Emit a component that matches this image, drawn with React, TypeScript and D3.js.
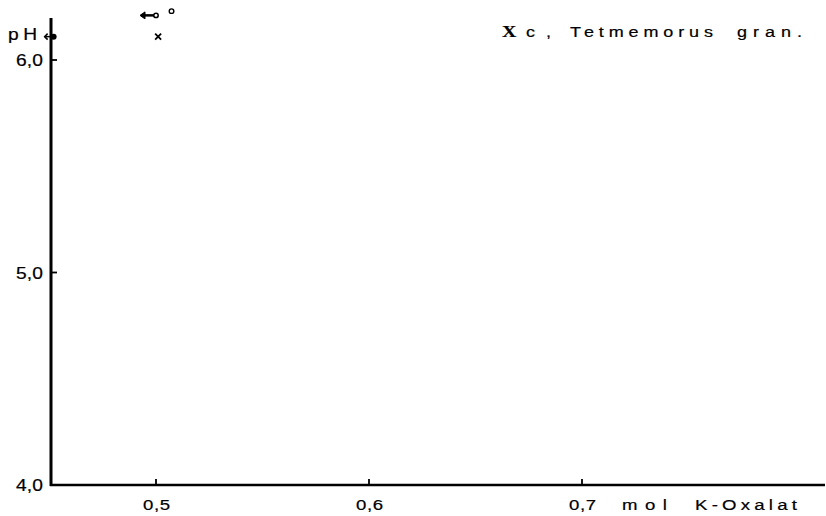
import { useMemo } from 'react';
import * as d3 from 'd3';

// Axis setup
const X_TICKS = [0.5, 0.6, 0.7];
const X_TICK_LABELS = ['0,5', '0,6', '0,7'];
const Y_TICKS = [4.0, 5.0, 6.0];
const Y_TICK_LABELS = ['4,0', '5,0', '6,0'];

// Measured points: x = mol K-Oxalat, y = pH
const FILLED_X = [0.451];
const FILLED_Y = [6.11];
const CROSS_X = [0.501];
const CROSS_Y = [6.11];
const OPEN_X = [0.5];
const OPEN_Y = [6.21];
const RING_X = [0.504];
const RING_Y = [6.23];

const W = 826;
const H = 516;
const FONT = '"Liberation Sans", Arial, sans-serif';
const STRETCH = 1.2;

// wide lettering: glyphs stretched sideways, then spread to the measured width
function Label(props: {
  x: number;
  y: number;
  w: number;
  text: string;
  size?: number;
  family?: string;
  weight?: string;
}) {
  return (
    <text
      transform={`translate(${props.x},${props.y}) scale(${STRETCH},1)`}
      textLength={props.w / STRETCH}
      lengthAdjust="spacing"
      fontFamily={props.family || FONT}
      fontWeight={props.weight}
      fontSize={props.size || 15}
      fill="#000"
      stroke="#000"
      strokeWidth={0.2}
    >
      {props.text}
    </text>
  );
}

export default function App() {
  const x = useMemo(() => d3.scaleLinear().domain([0.5, 0.7]).range([156, 582]), []);
  const y = useMemo(() => d3.scaleLinear().domain([4.0, 6.0]).range([485, 60]), []);

  const x0 = 51;
  const y0 = y(4.0);
  const yTop = 18;
  const xEnd = 825;

  return (
    <svg
      width={W}
      height={H}
      style={{ position: 'absolute', left: 0, top: 0, background: '#fff' }}
    >
      <rect width={W} height={H} fill="#fff" />

      {/* Axes */}
      <line x1={x0} y1={yTop} x2={x0} y2={y0 + 1} stroke="#000" strokeWidth={3} />
      <line x1={x0 - 1} y1={y0} x2={xEnd} y2={y0} stroke="#000" strokeWidth={2.5} />

      {/* Y ticks */}
      {Y_TICKS.map((t, i) => (
        <g key={'y' + t}>
          {i > 0 && (
            <line x1={x0} x2={x0 + 6} y1={y(t)} y2={y(t)} stroke="#000" strokeWidth={1.8} />
          )}
          <Label x={16} y={y(t) + 6} w={27} text={Y_TICK_LABELS[i]} size={16} />
        </g>
      ))}

      {/* X ticks */}
      {X_TICKS.map((t, i) => (
        <g key={'x' + t}>
          <line x1={x(t)} x2={x(t)} y1={y0} y2={y0 - 6} stroke="#000" strokeWidth={1.8} />
          <Label x={x(t) - 13} y={510} w={27} text={X_TICK_LABELS[i]} size={15.5} />
        </g>
      ))}

      {/* Axis titles */}
      <Label x={8} y={40} w={29} text="pH" size={16} />
      <Label x={622} y={510} w={45} text="mol" size={15.5} />
      <Label x={695} y={510} w={102} text="K-Oxalat" size={15.5} />

      {/* Panel title */}
      <Label
        x={502}
        y={37}
        w={18}
        text="X"
        size={16.5}
        weight="bold"
        family={'"Liberation Serif", "DejaVu Serif", serif'}
      />
      <Label x={526} y={37} w={12} text="c" size={15} />
      <Label x={546} y={37} w={4} text="," size={15} />
      <Label x={570} y={37} w={143} text="Tetmemorus" size={15} />
      <Label x={737} y={37} w={65} text="gran." size={15} />

      {/* Filled point with left arrow */}
      {FILLED_X.map((v, i) => {
        const cx = x(v) + 2;
        const cy = y(FILLED_Y[i]);
        return (
          <g key={'f' + i}>
            <circle cx={cx} cy={cy} r={3} fill="#000" />
            <line x1={cx} x2={cx - 9} y1={cy} y2={cy} stroke="#000" strokeWidth={1.5} />
            <path
              d={`M${cx - 6},${cy - 3} L${cx - 9},${cy} L${cx - 6},${cy + 3}`}
              fill="none"
              stroke="#000"
              strokeWidth={1.5}
            />
          </g>
        );
      })}

      {/* Cross */}
      {CROSS_X.map((v, i) => {
        const cx = x(v);
        const cy = y(CROSS_Y[i]);
        return (
          <g key={'c' + i} stroke="#000" strokeWidth={1.8}>
            <line x1={cx - 3} x2={cx + 3} y1={cy - 3} y2={cy + 3} />
            <line x1={cx - 3} x2={cx + 3} y1={cy + 3} y2={cy - 3} />
          </g>
        );
      })}

      {/* Open point with left arrow */}
      {OPEN_X.map((v, i) => {
        const cx = x(v);
        const cy = y(OPEN_Y[i]);
        return (
          <g key={'o' + i}>
            <line x1={cx - 2} x2={cx - 15} y1={cy} y2={cy} stroke="#000" strokeWidth={2.5} />
            <path
              d={`M${cx - 11},${cy - 3.5} L${cx - 16},${cy} L${cx - 11},${cy + 3.5} Z`}
              fill="#000"
              stroke="#000"
              strokeWidth={1}
            />
            <circle cx={cx} cy={cy} r={2.2} fill="#fff" stroke="#000" strokeWidth={1.5} />
          </g>
        );
      })}

      {/* Small ring */}
      {RING_X.map((v, i) => (
        <circle
          key={'r' + i}
          cx={x(v) + 7}
          cy={y(RING_Y[i])}
          r={2.3}
          fill="#fff"
          stroke="#000"
          strokeWidth={1.4}
        />
      ))}
    </svg>
  );
}
